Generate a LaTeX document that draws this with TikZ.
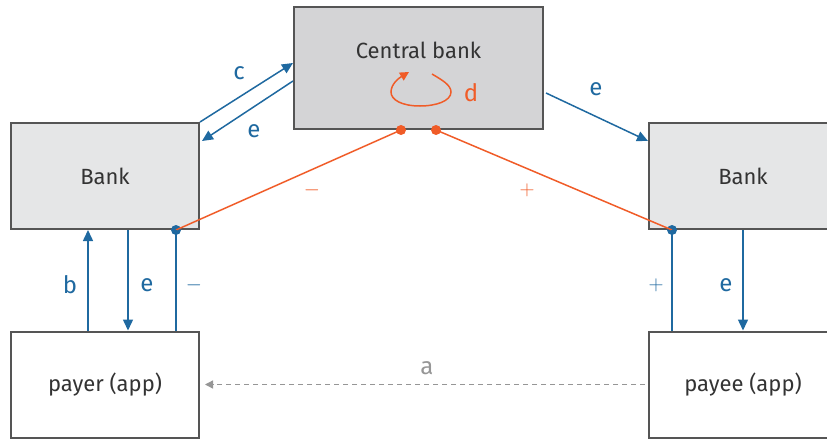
\documentclass[tikz,border=0pt]{standalone}
\usepackage{fontspec}
\setmainfont{Fira Sans}
\usetikzlibrary{arrows.meta,calc}
\definecolor{bl}{RGB}{31,105,160}
\definecolor{orng}{RGB}{240,92,40}
\definecolor{bord}{RGB}{85,85,85}
\definecolor{lfill}{RGB}{229,230,231}
\definecolor{cfill}{RGB}{212,212,214}
\definecolor{gr}{RGB}{150,150,150}
\tikzset{
  box/.style={draw=bord, line width=2pt, minimum width=188pt, minimum height=106pt, inner sep=0pt, font=\fontsize{22}{26}\selectfont, text=black!80},
  bankbox/.style={box, fill=lfill},
  cbox/.style={box, fill=cfill, minimum width=249pt, minimum height=122pt},
  appbox/.style={box, fill=white},
  conn/.style={bl, line width=1.5pt},
  arr/.style={conn, -{Triangle[length=11pt,width=10pt]}},
  lab/.style={font=\fontsize{24}{28}\selectfont, text=bl, inner sep=0pt},
  olab/.style={lab, text=orng},
  sign/.style={font=\fontsize{20}{24}\selectfont, inner sep=0pt},
  oline/.style={orng, line width=1.5pt},
  bdot/.style={circle, fill=bl, inner sep=0pt, minimum size=10pt},
  odot/.style={circle, fill=orng, inner sep=0pt, minimum size=10pt},
}
\begin{document}
\begin{tikzpicture}[x=1pt,y=-1pt]
\useasboundingbox (0,0) rectangle (827,439);
\clip (0,0) rectangle (827,439);
\node[cbox] (cb) at (418.5,68) {};
\node[font=\fontsize{22}{26}\selectfont, text=black!80] (cbt) at (418.5,50) {Central bank};
\node[bankbox] (lb) at (105,176) {Bank};
\node[bankbox] (rb) at (743,176) {Bank};
\node[appbox] (payer) at (105,384.5) {payer (app)};
\node[appbox] (payee) at (743,384.5) {payee (app)};

% c and e between left bank and central bank
\draw[arr] (lb.north east) -- ([yshift=5pt]cb.west);
\draw[arr] ([yshift=-13pt]cb.west) -- ([yshift=-19pt,xshift=2pt]lb.north east);
\draw[arr] ([yshift=-25pt,xshift=2pt]cb.east) -- ([yshift=-19pt]rb.north west);
\node[lab] (lc) at (239,73) {c};
\node[lab] (le1) at (254,131) {e};
\node[lab] (le2) at (596,89) {e};

% orange lines
\node[odot] (od1) at ([xshift=-17.5pt]cb.south) {};
\node[odot] (od2) at ([xshift=17.5pt]cb.south) {};
\node[bdot] (bd1) at ([xshift=-24pt]lb.south east) {};
\node[bdot] (bd2) at ([xshift=24pt]rb.south west) {};
\draw[oline] (bd1.center) -- (od1.center);
\draw[oline] (od2.center) -- (bd2.center);
\node[olab, sign] (om) at (312,190) {$-$};
\node[olab, sign] (op) at (527,190) {$+$};

% loop d
\draw[orng, line width=1.5pt, -{Triangle[length=9pt,width=9pt]}]
  (432,74) .. controls (442,80) and (451,85) .. (451,92)
  .. controls (451,101) and (436,106) .. (420,106)
  .. controls (402,106) and (391,100) .. (391,92)
  .. controls (391,84) and (399,78) .. (409,72);
\node[olab] (ld) at (471,93) {d};

% verticals left
\draw[arr] ([xshift=-17pt]payer.north) -- ([xshift=-17pt]lb.south);
\draw[arr] ([xshift=23pt]lb.south) -- ([xshift=23pt]payer.north);
\draw[conn] (bd1.center) -- (bd1.center |- payer.north);
\node[lab] (lb1) at (70,285) {b};
\node[lab] (le3) at (147,285) {e};
\node[lab, sign] (lm) at (194,285) {$-$};

% verticals right
\draw[conn] (bd2.center) -- (bd2.center |- payee.north);
\draw[arr] (rb.south) -- (payee.north);
\node[lab, sign] (lp) at (656,285) {$+$};
\node[lab] (le4) at (726,285) {e};

% dashed a
\draw[gr, line width=1.3pt, dash pattern=on 5pt off 4pt, -{Triangle[length=8pt,width=8pt]}, shorten >=5pt, shorten <=3pt] (payee.west) -- (payer.east);
\node[lab, text=gr] (la) at (427,368) {a};
\end{tikzpicture}
\end{document}
